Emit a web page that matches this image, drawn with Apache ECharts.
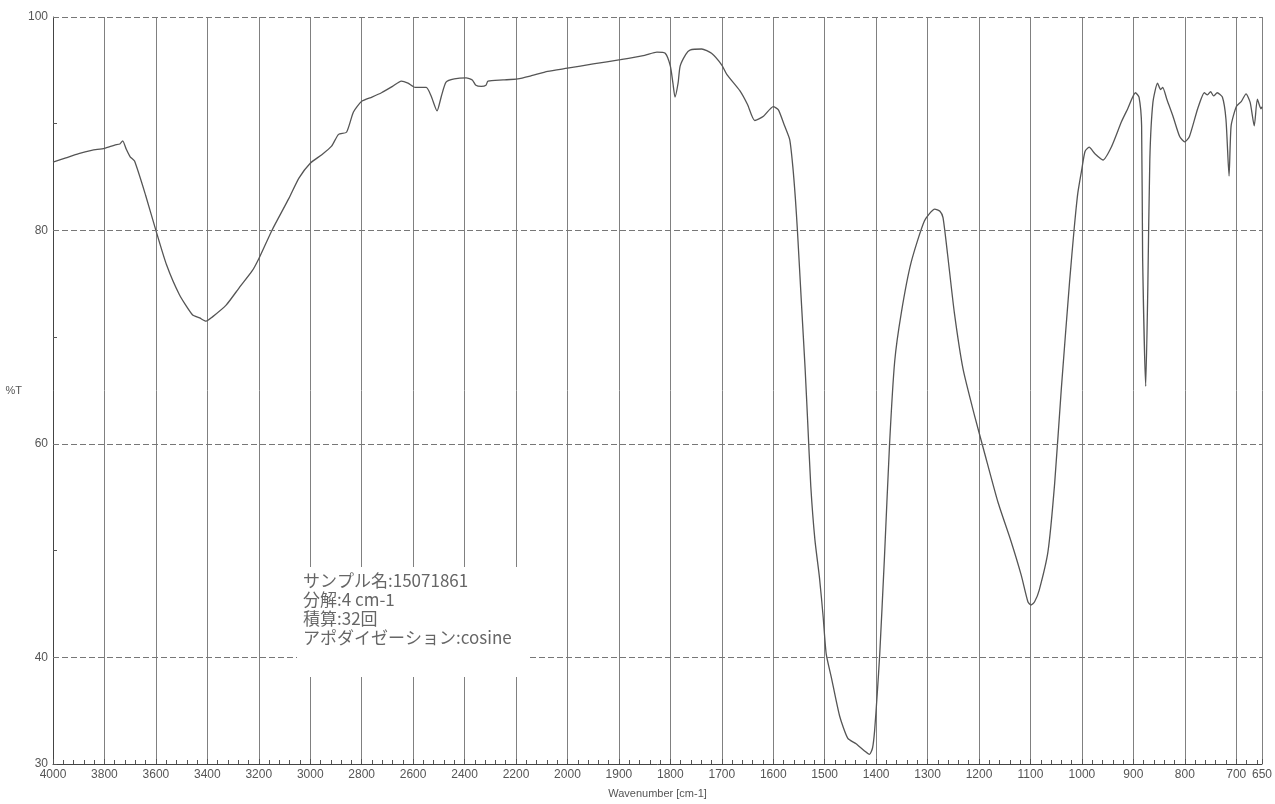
<!DOCTYPE html>
<html>
<head>
<meta charset="utf-8">
<title>IR spectrum</title>
<script src="https://cdn.jsdelivr.net/npm/echarts@6/dist/echarts.min.js"></script>
<style>
  html, body { margin: 0; padding: 0; background: #fff; }
  #chart { width: 1275px; height: 804px; }
</style>
</head>
<body>
<div id="chart"></div>
<script>
// wavenumber [cm-1] and %T
const wavenumber = [
  4000, 3950, 3900, 3850, 3800, 3760, 3740, 3729, 3715, 3700, 3683, 3640, 3600, 3559, 3509,
  3458, 3430, 3405, 3380, 3327, 3277, 3226, 3199, 3149, 3083, 3044, 3000, 2955, 2917, 2890,
  2859, 2832, 2800, 2760, 2723, 2680, 2646, 2620, 2592, 2549, 2530, 2507, 2490, 2472, 2440,
  2394, 2370, 2356, 2335, 2317, 2309, 2250, 2193, 2140, 2077, 2000, 1950, 1897, 1850, 1826,
  1810, 1800, 1795, 1791, 1785, 1781, 1770, 1762, 1739, 1720, 1700, 1690, 1665, 1650, 1636,
  1619, 1600, 1590, 1578, 1568, 1562, 1557, 1553, 1545, 1538, 1533, 1527, 1519, 1510, 1503,
  1497, 1487, 1471, 1455, 1439, 1422, 1413, 1407, 1403, 1398, 1393, 1384, 1374, 1364, 1351,
  1332, 1306, 1286, 1276, 1270, 1261, 1248, 1231, 1209, 1189, 1163, 1138, 1118, 1105, 1099,
  1092, 1083, 1066, 1053, 1040, 1024, 1015, 1008, 1000, 994, 986, 975, 959, 942, 923,
  911, 896, 889, 884, 882, 876, 872, 868, 862, 853, 847, 843, 835, 823, 810,
  800, 791, 775, 762, 756, 750, 744, 737, 727, 720, 714, 710, 700, 690, 681,
  673, 665, 659, 652, 650
]
const transmittance = [
  86.4, 86.8, 87.2, 87.5, 87.7, 88.0, 88.1, 88.4, 87.6, 86.9, 86.5, 83.3, 80.0, 76.8, 74.0,
  72.1, 71.8, 71.5, 71.9, 73.0, 74.6, 76.2, 77.4, 80.0, 83.0, 84.9, 86.3, 87.1, 87.9, 89.0,
  89.2, 91.1, 92.1, 92.5, 92.9, 93.5, 94.0, 93.8, 93.4, 93.4, 92.6, 91.2, 92.6, 93.9, 94.2,
  94.3, 94.1, 93.6, 93.5, 93.6, 94.0, 94.1, 94.2, 94.5, 94.9, 95.2, 95.6, 96.0, 96.4, 96.7,
  96.6, 95.4, 93.8, 92.5, 93.8, 95.4, 96.5, 96.9, 97.0, 96.6, 95.5, 94.6, 93.1, 91.8, 90.3,
  90.7, 91.6, 91.3, 89.8, 88.5, 86.0, 83.0, 80.0, 73.0, 67.0, 62.0, 56.0, 51.0, 47.4, 43.8,
  40.3, 38.1, 34.5, 32.4, 31.9, 31.2, 30.9, 31.5, 33.1, 36.5, 40.3, 49.2, 59.9, 67.7, 72.3,
  77.0, 80.9, 82.0, 81.8, 81.2, 77.7, 72.3, 67.0, 62.7, 59.1, 54.5, 50.9, 47.7, 45.2, 44.9,
  45.2, 46.3, 49.9, 56.3, 65.2, 75.2, 80.2, 83.5, 85.8, 87.4, 87.8, 87.2, 86.6, 87.9, 90.2,
  91.4, 92.9, 92.5, 89.8, 77.4, 65.4, 74.4, 86.7, 92.0, 93.8, 93.2, 93.4, 92.3, 90.7, 88.8,
  88.3, 88.8, 91.4, 92.9, 92.7, 93.0, 92.6, 92.9, 92.5, 90.4, 85.1, 89.8, 91.6, 92.1, 92.8,
  92.0, 89.8, 92.3, 91.4, 91.6
]
const yLabelValues = [30, 40, 60, 80, 100]
const gridLevels = [40, 60, 80, 100]
const infoLines = [
  'サンプル名:15071861',
  '分解:4 cm-1',
  '積算:32回',
  'アポダイゼーション:cosine'
]

// x scale changes at 2000 cm-1 (4000-2000 compressed 2:1)
const toPos = wn => (wn >= 2000 ? (4000 - wn) / 2 : 1000 + (2000 - wn))
const toWn = t => (t <= 1000 ? 4000 - 2 * t : 2000 - (t - 1000))

const labelFont = '"Liberation Sans Narrow", "Liberation Sans", sans-serif'
const chart = echarts.init(document.getElementById('chart'))

const option = {
  backgroundColor: '#fff',
  animation: false,
  grid: { left: 53, right: 7, top: 17, bottom: 33 },
  xAxis: {
    type: 'value',
    min: 0,
    max: toPos(650),
    interval: 100,
    name: 'Wavenumber [cm-1]',
    nameLocation: 'middle',
    nameGap: 24,
    nameTextStyle: { color: '#555', fontSize: 11, fontFamily: labelFont },
    axisLine: { show: true, lineStyle: { color: '#444', width: 1 } },
    axisTick: { show: true, inside: true, length: 5, lineStyle: { color: '#555' } },
    minorTick: { show: true, splitNumber: 5, length: 4, lineStyle: { color: '#555' } },
    axisLabel: {
      color: '#555',
      fontSize: 12,
      fontFamily: labelFont,
      margin: 5,
      formatter: v => String(Math.round(toWn(v)))
    },
    splitLine: { show: true, lineStyle: { color: '#808080', width: 1 } }
  },
  yAxis: {
    type: 'value',
    min: 30,
    max: 100,
    interval: 10,
    name: '%T',
    nameLocation: 'middle',
    nameRotate: 0,
    nameGap: 26,
    nameTextStyle: { color: '#555', fontSize: 11, fontFamily: labelFont },
    axisLine: { show: true, lineStyle: { color: '#444', width: 1 } },
    axisTick: { show: true, inside: true, length: 4, lineStyle: { color: '#555' } },
    axisLabel: {
      color: '#555',
      fontSize: 12,
      fontFamily: labelFont,
      margin: 5,
      formatter: v => (yLabelValues.includes(v) ? String(v) : '')
    },
    splitLine: { show: false }
  },
  series: [
    {
      type: 'line',
      data: wavenumber.map((wn, i) => [toPos(wn), transmittance[i]]),
      showSymbol: false,
      symbol: 'none',
      smooth: 0.2,
      lineStyle: { color: '#555', width: 1.3 },
      markLine: {
        silent: true,
        symbol: 'none',
        label: { show: false },
        lineStyle: { color: '#777', width: 1, type: [6, 3] },
        data: gridLevels.map(v => ({ yAxis: v }))
      }
    }
  ],
  graphic: [
    {
      type: 'rect',
      left: 297,
      top: 567,
      z: 100,
      shape: { width: 231, height: 110 },
      style: { fill: '#fff' }
    },
    {
      type: 'text',
      left: 303,
      top: 571,
      z: 101,
      style: {
        text: infoLines.join('\n'),
        fill: '#666',
        font: '17px "Noto Sans CJK JP", sans-serif',
        lineHeight: 19
      }
    }
  ]
}

chart.setOption(option)
</script>
</body>
</html>
